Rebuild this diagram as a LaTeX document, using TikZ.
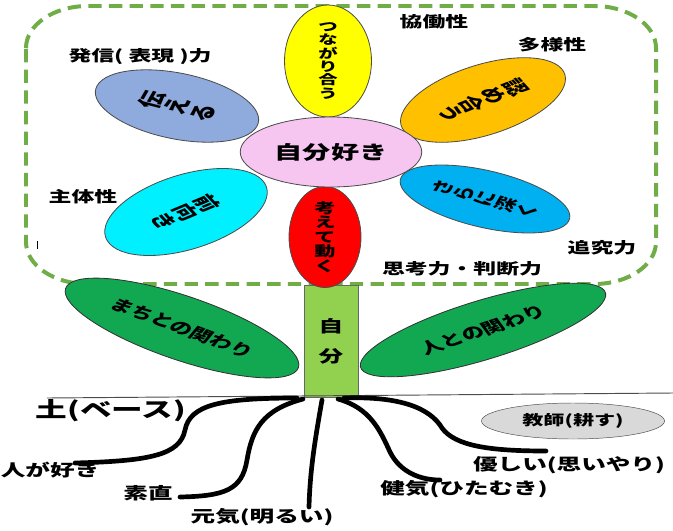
\documentclass[tikz,border=0pt]{standalone}
\usepackage{fontspec}
\setmainfont{Noto Sans CJK JP}[BoldFont={Noto Sans CJK JP Black}]
\usetikzlibrary{shapes.geometric}
\definecolor{framegreen}{HTML}{70AD47}
\definecolor{petalyellow}{HTML}{FFFF00}
\definecolor{petalorange}{HTML}{FFC000}
\definecolor{petalslate}{HTML}{8FAADC}
\definecolor{petalcyan}{HTML}{00F0FF}
\definecolor{petalsky}{HTML}{00B0F0}
\definecolor{petalred}{HTML}{FF0000}
\definecolor{petalpink}{HTML}{F6C5F0}
\definecolor{leafgreen}{HTML}{12A852}
\definecolor{stemgreen}{HTML}{92D050}
\definecolor{teachergray}{HTML}{D9D9D9}
\newcommand{\jpsize}[2]{\fontsize{#1}{#2}\selectfont\bfseries}

\begin{document}
\begin{tikzpicture}[x=0.03cm, y=-0.03cm,
  petal/.style={ellipse, draw=black!70, line width=0.7pt, inner sep=0pt, xscale=1.5, align=center},
  leaf/.style={ellipse, draw=black!80, fill=leafgreen, line width=0.7pt, inner sep=0pt, xscale=1.5, font=\jpsize{13}{13}},
  tag/.style={inner sep=0pt, xscale=1.5, font=\jpsize{13}{13}},
  rootlabel/.style={inner sep=0pt, xscale=1.5, font=\jpsize{14}{14}},
  root/.style={line width=4pt, line cap=round}
]
  \useasboundingbox (0,0) rectangle (673,530);

  % dashed frame round the flower
  \draw[framegreen, line width=3.4pt, dash pattern=on 0.4cm off 0.22cm]
    (26,48) .. controls (26,24.8) and (53.8,6) .. (88,6) -- (594,6)
    .. controls (628.2,6) and (656,24.8) .. (656,48) -- (656,242)
    .. controls (656,265.2) and (628.2,284) .. (594,284) -- (88,284)
    .. controls (53.8,284) and (26,265.2) .. (26,242) -- cycle;
  \draw[line width=0.6pt] (37,241) -- (37,249);

  % leaves and stem
  \node[leaf, rotate=-29, minimum width=5.25cm, minimum height=1.8cm] (machi) at (182,328) {まちとの関わり};
  \node[leaf, rotate=26, minimum width=5.4cm, minimum height=1.68cm] (hito) at (483,330) {人との関わり};
  \node[rectangle, draw=black!60, fill=stemgreen, xscale=1.5, minimum width=1.08cm, minimum height=3.36cm,
        align=center, font=\jpsize{14}{25.6}] (stem) at (331,341) {自\\分};

  % petals
  \node[petal, fill=petalyellow, minimum width=1.74cm, minimum height=3.36cm, font=\jpsize{11}{11.4}] (tsunagari) at (328,61) {つ\\な\\が\\り\\合\\う};
  \node[petal, fill=petalorange, rotate=-59, minimum width=1.98cm, minimum height=3.66cm, font=\jpsize{14}{14.4}] (mitome) at (483,100) {認\\め\\合\\う};
  \node[petal, fill=petalslate, rotate=69, minimum width=1.92cm, minimum height=3.42cm, font=\jpsize{15}{15.4}] (tsutae) at (177,106) {伝\\え\\る};
  \node[petal, fill=petalcyan, rotate=-58, minimum width=2.1cm, minimum height=3.6cm, font=\jpsize{14}{14.4}] (maemuki) at (186,212) {前\\向\\き};
  \node[petal, fill=petalsky, rotate=68, minimum width=1.65cm, minimum height=3.6cm, font=\jpsize{12.5}{12.9}] (fukaku) at (485,199) {さ\\ら\\に\\深\\く};
  \node[petal, fill=petalred, minimum width=1.44cm, minimum height=3cm, font=\jpsize{12}{12.4}] (ugoku) at (325,237) {考\\え\\て\\動\\く};
  \node[petal, fill=petalpink, minimum width=3.63cm, minimum height=2.1cm, font=\jpsize{16}{16}] (jibun) at (331,152) {自分好き};

  % qualities
  \node[tag] (kyodo) at (434,22) {協働性};
  \node[tag] (tayo) at (552,45) {多様性};
  \node[tag] (hasshin) at (140,57) {発信( 表現 )力};
  \node[tag] (shutai) at (83,197) {主体性};
  \node[tag] (tsuikyu) at (602,248) {追究力};
  \node[tag] (shiko) at (462,269) {思考力・判断力};

  % soil
  \draw[line width=0.8pt, black!70] (47,398) -- (673,393);
  \node[tag, font=\jpsize{18}{18}] (soil) at (111,411) {土(ベース)};
  \node[ellipse, draw=black!70, fill=teachergray, xscale=1.5, minimum width=3.66cm, minimum height=1.08cm,
        font=\jpsize{12}{12}] (kyoshi) at (573,421) {教師(耕す)};

  % roots
  \node[rootlabel] (suki) at (50,470) {人が好き};
  \node[rootlabel] (sunao) at (148,493) {素直};
  \node[rootlabel] (genki) at (262,517) {元気(明るい)};
  \node[rootlabel] (kenage) at (464,489) {健気(ひたむき)};
  \node[rootlabel] (yasashii) at (569,465) {優しい(思いやり)};

  \coordinate (base1) at (297,398);
  \coordinate (base2) at (303,399);
  \coordinate (base3) at (322,400);
  \coordinate (base4) at (338,399);
  \coordinate (base5) at (344,398);
  \coordinate (tip1) at (75,463);
  \coordinate (tip2) at (180,497);
  \coordinate (tip3) at (309,507);
  \coordinate (tip4) at (440,480);
  \coordinate (tip5) at (546,451);

  \draw[root] (base1) .. controls (220,398) and (190,405) .. (185,430) .. controls (180,455) and (150,461) .. (tip1);
  \draw[root] (base2) .. controls (262,410) and (252,430) .. (247,460) .. controls (242,490) and (225,496) .. (tip2);
  \draw[root] (base3) .. controls (315,440) and (310,470) .. (tip3);
  \draw[root] (base4) .. controls (370,408) and (380,430) .. (390,452) .. controls (400,472) and (420,480) .. (tip4);
  \draw[root] (base5) .. controls (400,396) and (430,408) .. (442,428) .. controls (455,446) and (490,451) .. (tip5);
\end{tikzpicture}
\end{document}
